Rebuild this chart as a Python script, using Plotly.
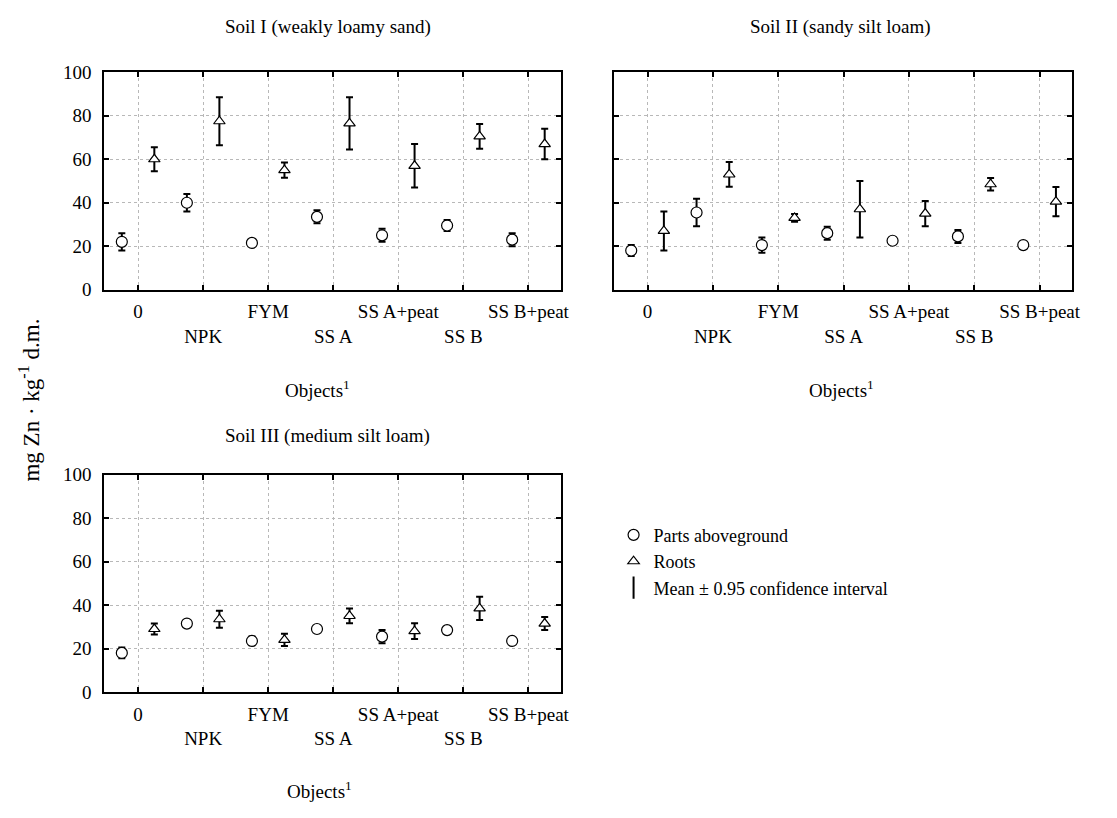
import plotly.graph_objects as go

categories = ["0", "NPK", "FYM", "SS A", "SS A+peat", "SS B", "SS B+peat"]

soil1_above = [22, 40, 21.5, 33.5, 25, 29.5, 23]
soil1_above_ci = [4, 4, 1, 3, 3, 2.5, 3]
soil1_roots = [60, 77.5, 55, 76.5, 57, 70.5, 67]
soil1_roots_ci = [5.5, 11, 3.5, 12, 10, 5.7, 7]

soil2_above = [18, 35.5, 20.5, 26, 22.5, 24.5, 20.5]
soil2_above_ci = [2.5, 6.3, 3.5, 3, 1, 3, 1.2]
soil2_roots = [27, 53, 33, 37, 35, 48.5, 40.5]
soil2_roots_ci = [9, 5.7, 1.8, 13, 5.8, 2.9, 6.7]

soil3_above = [18, 31.5, 23.5, 29, 25.5, 28.5, 23.5]
soil3_above_ci = [2.5, 1.5, 2, 1.5, 3, 1.5, 1]
soil3_roots = [29, 33.5, 24, 35, 28, 38.5, 31.5]
soil3_roots_ci = [2.5, 3.9, 2.8, 3.4, 3.6, 5.3, 3]

titles = ["Soil I (weakly loamy sand)", "Soil II (sandy silt loam)", "Soil III (medium silt loam)"]
y_ticks = [0, 20, 40, 60, 80, 100]
x_title = "Objects<sup>1</sup>"
y_title = "mg Zn · kg<sup>-1</sup> d.m."
legend_names = ["Parts aboveground", "Roots", "Mean ± 0.95 confidence interval"]

FONT = "Liberation Serif"
W, H = 1117, 818


def px_x(v):
    return v / W


def px_y(v):
    return 1 - v / H


panels = [
    dict(x=(105, 565), y=(64, 287), data=(soil1_above, soil1_above_ci, soil1_roots, soil1_roots_ci),
         title_x=330, title_y=17, obj_x=320, obj_y=389, ylabels=True),
    dict(x=(618, 1080), y=(64, 287), data=(soil2_above, soil2_above_ci, soil2_roots, soil2_roots_ci),
         title_x=846, title_y=17, obj_x=848, obj_y=389, ylabels=False),
    dict(x=(105, 565), y=(477, 700), data=(soil3_above, soil3_above_ci, soil3_roots, soil3_roots_ci),
         title_x=330, title_y=437, obj_x=322, obj_y=801, ylabels=True),
]

fig = go.Figure()
idx = list(range(len(categories)))
even_vals = [i for i in idx if i % 2 == 0]
even_text = [categories[i] for i in even_vals]
odd_vals = [i for i in idx if i % 2 == 1]
odd_text = [categories[i] for i in odd_vals]

TICKFONT = dict(family=FONT, size=19, color="black")
annotations = []
for k, p in enumerate(panels):
    xa = "x" if k == 0 else f"x{k+1}"
    ya = "y" if k == 0 else f"y{k+1}"
    ov = f"x{k+4}"
    above, above_ci, roots, roots_ci = p["data"]
    xs_above = [i - 0.25 for i in idx]
    xs_roots = [i + 0.25 for i in idx]
    # error bars first (underneath), markers on top
    for xs, ys, ci in ((xs_above, above, above_ci), (xs_roots, roots, roots_ci)):
        fig.add_trace(go.Scatter(
            x=xs, y=ys, mode="markers", xaxis=xa, yaxis=ya, showlegend=False, hoverinfo="skip",
            marker=dict(size=1, color="rgba(0,0,0,0)", line=dict(width=0)),
            error_y=dict(type="data", array=ci, color="black", thickness=2, width=3.5),
        ))
    fig.add_trace(go.Scatter(
        x=xs_above, y=above, mode="markers", xaxis=xa, yaxis=ya,
        name=legend_names[0], showlegend=(k == 0),
        marker=dict(symbol="circle", size=11, color="white", line=dict(color="black", width=1.2)),
    ))
    fig.add_trace(go.Scatter(
        x=xs_roots, y=roots, mode="markers", xaxis=xa, yaxis=ya,
        name=legend_names[1], showlegend=(k == 0),
        marker=dict(symbol="triangle-up", size=10, color="white", line=dict(color="black", width=1.2)),
    ))
    fig.add_trace(go.Scatter(x=[None], y=[None], xaxis=ov, yaxis=ya, showlegend=False, hoverinfo="skip"))

    dom_x = [px_x(p["x"][0]), px_x(p["x"][1])]
    dom_y = [px_y(p["y"][1]), px_y(p["y"][0])]
    tick_common = dict(ticks="inside", ticklen=5, tickwidth=1.5, tickcolor="black", mirror="ticks",
                       showgrid=True, gridcolor="#b8b8b8", griddash="dot", gridwidth=1,
                       zeroline=False, tickfont=TICKFONT)
    axis_common = dict(tick_common, showline=True, linecolor="black", linewidth=2)
    fig.layout[("xaxis" if k == 0 else f"xaxis{k+1}")] = dict(
        axis_common, domain=dom_x, anchor=ya, range=[-0.52, 6.5],
        tickmode="array", tickvals=even_vals, ticktext=even_text, ticklabelstandoff=4)
    fig.layout[("yaxis" if k == 0 else f"yaxis{k+1}")] = dict(
        axis_common, domain=dom_y, anchor=xa, range=[0, 100],
        tickmode="array", tickvals=y_ticks, showticklabels=p["ylabels"], ticklabelstandoff=7)
    fig.layout[f"xaxis{k+4}"] = dict(
        tick_common, overlaying=xa, anchor=ya, side="bottom", range=[-0.52, 6.5], showline=False,
        tickmode="array", tickvals=odd_vals, ticktext=odd_text, ticklabelstandoff=33)
    annotations.append(dict(text=titles[k], x=px_x(p["title_x"]), y=px_y(p["title_y"]),
                            xref="paper", yref="paper", showarrow=False, xanchor="center", yanchor="middle",
                            font=dict(family=FONT, size=19, color="black")))
    annotations.append(dict(text=x_title, x=px_x(p["obj_x"]), y=px_y(p["obj_y"]),
                            xref="paper", yref="paper", showarrow=False, xanchor="center", yanchor="middle",
                            font=dict(family=FONT, size=19, color="black")))

fig.add_trace(go.Scatter(
    x=[None], y=[None], mode="markers", name=legend_names[2],
    marker=dict(symbol="line-ns-open", size=16, color="black", line=dict(color="black", width=2)),
))

annotations.append(dict(text=y_title, x=px_x(30), y=px_y(400), xref="paper", yref="paper",
                        showarrow=False, textangle=-90, xanchor="center", yanchor="middle",
                        font=dict(family=FONT, size=23, color="black")))

fig.update_layout(
    width=W, height=H, margin=dict(l=0, r=0, t=0, b=0),
    paper_bgcolor="white", plot_bgcolor="white",
    annotations=annotations,
    showlegend=True,
    legend=dict(x=px_x(618), y=px_y(520), xanchor="left", yanchor="top",
                font=dict(family=FONT, size=18, color="black"),
                bgcolor="rgba(0,0,0,0)"),
)

fig.write_html("out.html",
               post_script="document.body.style.margin='0px';document.body.style.overflow='hidden';")
